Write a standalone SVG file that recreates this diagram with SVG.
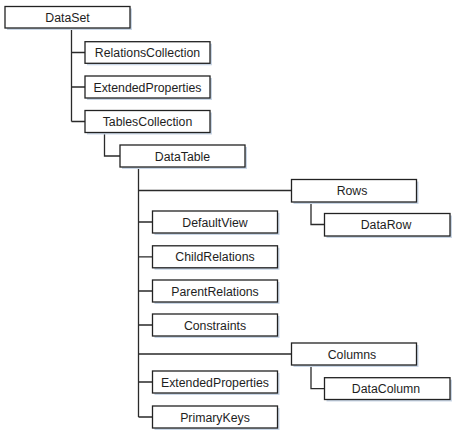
<svg xmlns="http://www.w3.org/2000/svg" width="455" height="434" viewBox="0 0 455 434">
<style>
.sh{fill:#c9d6e6;}
.bx{fill:#ffffff;stroke:#222222;stroke-width:1.3;}
.t{font-family:"Liberation Sans",Arial,sans-serif;font-size:12.3px;fill:#1e1e1e;text-anchor:middle;}
.c{fill:none;stroke:#2a2a2a;stroke-width:1.3;}
</style>
<rect width="455" height="434" fill="#ffffff"/>
<g id="connectors">
<path class="c" d="M71.5 27.5V121.5M71.5 52.5H85M71.5 87H85M71.5 121.5H85"/>
<path class="c" d="M104.5 132.5V156H120"/>
<path class="c" d="M138.5 167V417M138.5 190.5H291.5M138.5 222H152.5M138.5 256.8H152.5M138.5 291H152.5M138.5 325H152.5M138.5 354H291.5M138.5 382H152.5M138.5 417H152.5"/>
<path class="c" d="M311 201.5V224.5H324.5"/>
<path class="c" d="M311 365V388.7H324.5"/>
</g>
<g id="n-dataset"><rect class="sh" x="7" y="8.5" width="125" height="21.5"/><rect class="bx" x="5" y="6.5" width="125" height="21.5"/><text class="t" x="67.5" y="21.8">DataSet</text></g>
<g id="n-relationscollection"><rect class="sh" x="87" y="43.7" width="125" height="21.6"/><rect class="bx" x="85" y="41.7" width="125" height="21.6"/><text class="t" x="147.5" y="57.2">RelationsCollection</text></g>
<g id="n-extendedproperties1"><rect class="sh" x="87" y="78" width="125" height="22"/><rect class="bx" x="85" y="76" width="125" height="22"/><text class="t" x="147.5" y="91.6">ExtendedProperties</text></g>
<g id="n-tablescollection"><rect class="sh" x="87" y="112.5" width="125" height="22"/><rect class="bx" x="85" y="110.5" width="125" height="22"/><text class="t" x="147.5" y="126.1">TablesCollection</text></g>
<g id="n-datatable"><rect class="sh" x="122" y="147" width="125" height="22"/><rect class="bx" x="120" y="145" width="125" height="22"/><text class="t" x="182.5" y="160.6">DataTable</text></g>
<g id="n-rows"><rect class="sh" x="293.5" y="181.5" width="125" height="22.5"/><rect class="bx" x="291.5" y="179.5" width="125" height="22.5"/><text class="t" x="352" y="195.3">Rows</text></g>
<g id="n-datarow"><rect class="sh" x="326.5" y="215.5" width="125.5" height="22.5"/><rect class="bx" x="324.5" y="213.5" width="125.5" height="22.5"/><text class="t" x="386" y="229.3">DataRow</text></g>
<g id="n-defaultview"><rect class="sh" x="154.5" y="213" width="125" height="22"/><rect class="bx" x="152.5" y="211" width="125" height="22"/><text class="t" x="215" y="226.6">DefaultView</text></g>
<g id="n-childrelations"><rect class="sh" x="154.5" y="247.8" width="125" height="22"/><rect class="bx" x="152.5" y="245.8" width="125" height="22"/><text class="t" x="215" y="261.4">ChildRelations</text></g>
<g id="n-parentrelations"><rect class="sh" x="154.5" y="282" width="125" height="22"/><rect class="bx" x="152.5" y="280" width="125" height="22"/><text class="t" x="215" y="295.6">ParentRelations</text></g>
<g id="n-constraints"><rect class="sh" x="154.5" y="316" width="125" height="22"/><rect class="bx" x="152.5" y="314" width="125" height="22"/><text class="t" x="215" y="329.6">Constraints</text></g>
<g id="n-columns"><rect class="sh" x="293.5" y="345" width="125" height="22"/><rect class="bx" x="291.5" y="343" width="125" height="22"/><text class="t" x="352" y="358.6">Columns</text></g>
<g id="n-datacolumn"><rect class="sh" x="326.5" y="379.7" width="125.5" height="21.8"/><rect class="bx" x="324.5" y="377.7" width="125.5" height="21.8"/><text class="t" x="386" y="393.2">DataColumn</text></g>
<g id="n-extendedproperties2"><rect class="sh" x="154.5" y="373" width="125" height="22"/><rect class="bx" x="152.5" y="371" width="125" height="22"/><text class="t" x="215" y="386.6">ExtendedProperties</text></g>
<g id="n-primarykeys"><rect class="sh" x="154.5" y="408" width="125" height="22"/><rect class="bx" x="152.5" y="406" width="125" height="22"/><text class="t" x="215" y="421.6">PrimaryKeys</text></g>
</svg>
